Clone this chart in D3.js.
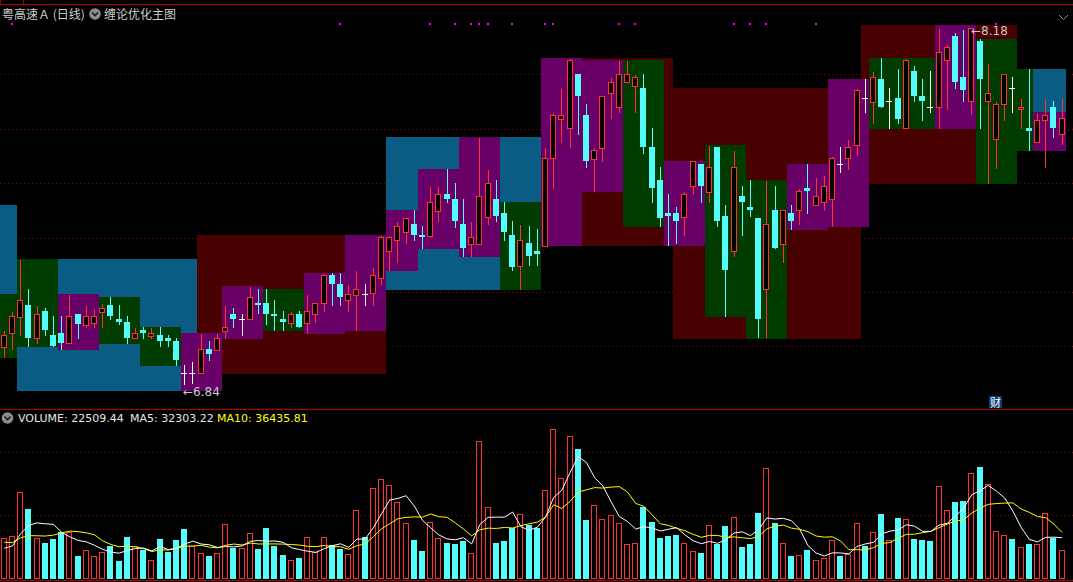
<!DOCTYPE html>
<html><head><meta charset="utf-8">
<script src="https://cdn.jsdelivr.net/npm/d3@7"></script>
<style>html,body{margin:0;padding:0;background:#000;overflow:hidden}svg{display:block}</style>
</head><body>
<svg id="chart" width="1073" height="582"></svg>
<script>
// ---------- data ----------
const open = [6.980,7.031,7.093,7.137,7.012,7.114,7.024,7.032,6.993,7.103, 7.063,7.070,7.112,7.137,7.084,7.073,7.012,7.043,7.021,7.024, 7.014,7.002,6.880,6.880,6.880,6.971,6.969,7.040,7.103,7.084, 7.083,7.144,7.144,7.103,7.084,7.070,7.103,7.070,7.102,7.143, 7.249,7.216,7.155,7.176,7.177,7.183,7.237,7.339,7.381,7.411, 7.442,7.400,7.398,7.492,7.555,7.536,7.442,7.368,7.368,7.469, 7.536,7.483,7.400,7.285,7.370,7.340,7.360,7.689,7.838,7.802, 8.006,7.852,7.688,7.729,7.934,7.881,7.975,7.962,7.953,7.732, 7.608,7.483,7.483,7.469,7.584,7.668,7.564,7.732,7.472,7.339, 7.546,7.505,7.464,7.196,7.495,7.368,7.483,7.493,7.576,7.512, 7.524,7.535,7.667,7.689,7.738,7.915,7.902,7.988,7.904,7.915, 7.802,8.018,7.924,7.882,7.881,8.058,8.149,7.995,7.904,8.131, 7.904,7.761,7.892,7.954,7.874,7.803,7.749,7.832,7.882,7.780];
const high = [7.039,7.110,7.306,7.197,7.133,7.127,7.096,7.096,7.175,7.103, 7.133,7.122,7.141,7.167,7.137,7.096,7.050,7.054,7.050,7.054, 7.024,7.013,6.911,6.921,7.028,7.002,7.028,7.133,7.126,7.103, 7.205,7.197,7.197,7.156,7.114,7.111,7.113,7.175,7.143,7.254, 7.256,7.256,7.212,7.265,7.216,7.276,7.396,7.396,7.449,7.463, 7.495,7.434,7.581,7.581,7.649,7.596,7.536,7.449,7.766,7.645, 7.607,7.525,7.453,7.438,7.434,7.423,7.728,7.860,7.950,8.063, 8.006,7.894,7.729,7.923,7.991,8.054,8.054,8.002,8.006,7.803, 7.656,7.555,7.507,7.564,7.678,7.668,7.735,7.732,7.513,7.717, 7.585,7.606,7.464,7.604,7.585,7.493,7.512,7.573,7.668,7.614, 7.623,7.693,7.732,7.758,7.950,7.987,8.013,8.066,7.954,8.025, 8.063,8.037,7.988,8.018,8.176,8.116,8.160,8.172,8.180,8.137, 8.043,7.900,8.005,7.995,7.912,8.025,7.859,7.912,7.905,7.912];
const low = [6.942,6.971,7.024,6.984,6.995,7.025,6.984,6.973,6.993,7.014, 7.055,7.055,7.055,7.084,7.065,6.994,7.012,7.014,7.014,6.984, 6.984,6.912,6.840,6.845,6.880,6.931,6.969,7.014,7.055,7.025, 7.083,7.106,7.067,7.044,7.044,7.055,7.055,7.033,7.074,7.116, 7.137,7.137,7.116,7.044,7.137,7.137,7.217,7.270,7.299,7.371, 7.382,7.352,7.393,7.454,7.526,7.432,7.321,7.321,7.368,7.443, 7.454,7.382,7.270,7.198,7.289,7.289,7.360,7.578,7.752,7.733, 7.782,7.658,7.567,7.680,7.842,7.865,7.975,7.865,7.710,7.525, 7.434,7.364,7.371,7.402,7.556,7.526,7.526,7.434,7.097,7.323, 7.402,7.473,7.015,7.015,7.353,7.300,7.424,7.443,7.484,7.512, 7.495,7.434,7.639,7.650,7.702,7.865,7.823,7.884,7.804,7.823, 7.802,7.906,7.834,7.865,7.804,7.876,7.955,7.906,7.855,7.804, 7.597,7.652,7.834,7.865,7.804,7.720,7.749,7.658,7.771,7.742];
const close = [7.024,7.096,7.156,7.014,7.102,7.044,6.984,6.995,7.096,7.067, 7.096,7.096,7.126,7.096,7.073,7.014,7.031,7.033,7.031,7.003, 7.003,6.930,6.880,6.880,6.970,6.954,7.012,7.053,7.084,7.084, 7.166,7.138,7.104,7.096,7.074,7.103,7.055,7.113,7.143,7.249, 7.217,7.168,7.177,7.196,7.177,7.249,7.392,7.392,7.433,7.463, 7.402,7.393,7.524,7.554,7.536,7.454,7.353,7.393,7.546,7.596, 7.472,7.413,7.281,7.381,7.323,7.330,7.689,7.851,7.851,8.058, 7.925,7.680,7.719,7.923,7.975,8.005,8.005,7.994,7.733,7.578, 7.466,7.473,7.454,7.554,7.678,7.586,7.655,7.454,7.270,7.655, 7.526,7.496,7.085,7.441,7.353,7.493,7.454,7.565,7.567,7.546, 7.584,7.689,7.667,7.731,7.945,7.915,7.994,7.884,7.904,7.836, 8.058,7.924,7.906,7.882,8.088,8.107,7.977,7.947,8.178,7.989, 7.934,7.892,8.005,7.954,7.881,7.793,7.832,7.852,7.804,7.840];
const volume = [31800,33400,68100,54900,31800,28100,31300,36600,37000,17900, 22400,17700,20800,25800,13900,32900,25500,22600,14500,31300, 21000,30500,39200,26000,20000,17900,20000,42900,24400,24000, 35800,23400,39700,25800,18700,14500,16100,33100,21300,33100, 26600,23400,19200,53900,32900,71200,78300,73600,60200,43700, 30500,21800,44400,31800,28100,27300,29900,20000,108300,56300, 28100,29700,40000,50700,42300,40000,69700,117700,79100,112200, 102200,46300,57800,46800,50000,43700,27100,27900,56500,44700, 32100,33600,34400,27900,21800,20300,42100,27600,41500,48400, 25000,27300,51800,87000,43900,27900,17900,18400,22600,14500, 16100,30300,17900,19200,43700,25800,36600,51000,30300,47800, 46800,31300,30500,29700,72800,53900,60400,61200,83100,88000, 74800,37842,34200,31300,24700,27100,27700,52100,32106.66,22509.44];
// volumes of the 9 sessions before the first visible one (for the moving averages)
const prevVolume = [36000,30000,38000,33000,30000,24000,20000,22000,22200];

// central-zone boxes (candle index range, price range, kind), in drawing order
const boxStart  = [0,0,2,2,7,12,17,24,22,27,32,37,42,47,47,51,56,61,71,66,71,76,82,81,86,91,96,105,101,106,114,119,124,126,126];
const boxEnd    = [2,2,24,7,12,17,22,47,27,32,37,42,47,66,51,56,61,66,82,71,76,81,105,86,91,96,101,124,106,114,119,124,130,130,130];
const boxTop    = [7.513,7.180,7.310,7.310,7.178,7.167,7.054,7.401,7.031,7.209,7.197,7.258,7.401,7.769,7.495,7.649,7.769,7.525,8.067,8.067,8.059,8.059,7.954,7.679,7.739,7.608,7.668,8.191,7.988,8.067,8.191,8.138,8.025,8.025,7.864];
const boxBottom = [7.180,6.939,6.813,6.980,6.968,6.990,6.908,6.877,6.815,7.009,7.039,7.028,7.039,7.194,7.265,7.348,7.318,7.194,7.359,7.359,7.562,7.431,7.009,7.359,7.092,7.009,7.419,7.592,7.431,7.800,7.800,7.592,7.717,7.864,7.717];
const boxKind   = ["blue","green","blue","green","purple","green","green","red","purple","purple","green","purple","purple","blue","purple","purple","purple","green","red","purple","purple","green","red","purple","green","green","purple","red","purple","green","purple","green","green","blue","purple"];

const priceGrid = [8.006,7.801,7.596,7.391,7.186,6.981];
const volumeGrid = [50000,100000];
const signalDots = [1,41,52,55,57,58,59,62,66,67,75,77,89,91,93,99,121];
const financeMark = 121;

// ---------- drawing ----------
const W = 1073, H = 582;
const N = close.length;
const svg = d3.select("#chart");
svg.append("rect").attr("width", W).attr("height", H).attr("fill", "#000");

const x = d3.scaleLinear().domain([0, N]).range([0.2, 1066.2]);
const yP = d3.scaleLinear().domain([6.84, 8.18]).range([383.9, 27.9]);
const yV = d3.scaleLinear().domain([0, 100000]).range([578.7, 451.8]);
const cx = i => Math.floor(x(i + 0.5));

const RED = "#ff3232", CYAN = "#54fcfc", WHITE = "#ffffff";
const boxColor = {blue: "#0a5c84", green: "#003c00", purple: "#680068", red: "#480000"};
const GRID = "#8c0000";

// price gridlines
svg.append("g").attr("shape-rendering", "crispEdges").selectAll("line").data(priceGrid).join("line")
  .attr("x1", 0).attr("x2", W)
  .attr("y1", d => Math.round(yP(d)) + 0.5).attr("y2", d => Math.round(yP(d)) + 0.5)
  .attr("stroke", GRID).attr("stroke-dasharray", "1,3");

// boxes
svg.append("g").attr("shape-rendering", "crispEdges").selectAll("rect").data(boxStart.map((s, k) => k)).join("rect")
  .attr("x", k => Math.round(x(boxStart[k])))
  .attr("width", k => Math.round(x(boxEnd[k])) - Math.round(x(boxStart[k])))
  .attr("y", k => Math.round(yP(boxTop[k])))
  .attr("height", k => Math.round(yP(boxBottom[k])) - Math.round(yP(boxTop[k])))
  .attr("fill", k => boxColor[boxKind[k]]);

// candles
const cg = svg.append("g").attr("shape-rendering", "crispEdges");
d3.range(N).forEach(i => {
  const c = cx(i);
  const o = open[i], cl = close[i];
  const col = cl > o ? RED : (cl < o ? CYAN : WHITE);
  const yh = Math.round(yP(high[i])), yl = Math.round(yP(low[i]));
  cg.append("rect").attr("x", c).attr("width", 1).attr("y", yh).attr("height", yl - yh + 1).attr("fill", col);
  const yo = Math.round(yP(o)), yc = Math.round(yP(cl));
  if (cl > o) {
    cg.append("rect").attr("x", c - 2.5).attr("width", 5)
      .attr("y", yc + 0.5).attr("height", Math.max(1, yo - yc))
      .attr("fill", "#000").attr("stroke", RED).attr("stroke-width", 1);
  } else if (cl < o) {
    cg.append("rect").attr("x", c - 3).attr("width", 6)
      .attr("y", yo).attr("height", Math.max(1, yc - yo)).attr("fill", CYAN);
  } else {
    cg.append("rect").attr("x", c - 3).attr("width", 6).attr("y", yo).attr("height", 1).attr("fill", WHITE);
  }
});

// extreme labels
const iMin = d3.minIndex(low), iMax = d3.maxIndex(high);
svg.append("text").attr("x", cx(iMin) - 1).attr("y", yP(low[iMin]) + 12)
  .attr("font-family", "DejaVu Sans, sans-serif").attr("font-size", 12).attr("fill", "#c8c8c8")
  .text("\u2190" + low[iMin].toFixed(2));
svg.append("text").attr("x", cx(iMax)).attr("y", yP(high[iMax]) + 7)
  .attr("font-family", "DejaVu Sans, sans-serif").attr("font-size", 12).attr("fill", "#c8c8c8")
  .text("\u2190" + high[iMax].toFixed(2));

// signal dots
svg.append("g").selectAll("rect").data(signalDots).join("rect")
  .attr("x", d => cx(d) - 1).attr("y", 23).attr("width", 2).attr("height", 2).attr("fill", "#ff00ff");

// finance mark
const fg = svg.append("g");
fg.append("rect").attr("x", cx(financeMark) - 7).attr("y", 396).attr("width", 13).attr("height", 12).attr("fill", "#0c3c78");
fg.append("text").attr("x", cx(financeMark) - 0.5).attr("y", 406.5).attr("text-anchor", "middle")
  .attr("font-family", "Noto Sans CJK SC").attr("font-size", 11).attr("fill", "#fff").text("财");

// separators
const sep = svg.append("g").attr("stroke", "#b00000").attr("shape-rendering", "crispEdges");
[4.5, 409.5, 580.5].forEach(yy => sep.append("line").attr("x1", 0).attr("x2", W).attr("y1", yy).attr("y2", yy));
sep.append("path").attr("d", "M0.5,0V4.5M23.5,0V4.5").attr("fill", "none");

// header
function icon(cxp, cyp) {
  svg.append("circle").attr("cx", cxp).attr("cy", cyp).attr("r", 5.8).attr("fill", "#8c8c8c");
  svg.append("path").attr("d", `M${cxp-3},${cyp-1.5}L${cxp},${cyp+1.5}L${cxp+3},${cyp-1.5}`)
    .attr("fill", "none").attr("stroke", "#1a1a1a").attr("stroke-width", 1.6);
}
svg.append("text").attr("x", 2).attr("y", 19).attr("font-family", "Noto Sans CJK SC").attr("font-size", 12)
  .attr("fill", "#cccccc").text("粤高速Ａ (日线)");
icon(95, 14);
svg.append("text").attr("x", 104).attr("y", 19).attr("font-family", "Noto Sans CJK SC").attr("font-size", 12)
  .attr("fill", "#cccccc").text("缠论优化主图");
svg.append("path").attr("d", "M1059,15L1063.5,19.5L1068,15").attr("fill", "none").attr("stroke", "#909090");

// volume panel
svg.append("g").attr("shape-rendering", "crispEdges").selectAll("line").data(volumeGrid).join("line")
  .attr("x1", 0).attr("x2", W)
  .attr("y1", d => Math.round(yV(d)) + 0.5).attr("y2", d => Math.round(yV(d)) + 0.5)
  .attr("stroke", GRID).attr("stroke-dasharray", "1,3");

const vg = svg.append("g").attr("shape-rendering", "crispEdges");
d3.range(N).forEach(i => {
  const c = cx(i);
  const up = close[i] > open[i] || (close[i] === open[i] && (i === 0 || close[i] >= close[i - 1]));
  const t = Math.round(yV(volume[i]));
  if (up) {
    vg.append("rect").attr("x", c - 2.5).attr("width", 5).attr("y", t + 0.5).attr("height", 578 - t)
      .attr("fill", "#000").attr("stroke", RED);
  } else {
    vg.append("rect").attr("x", c - 3).attr("width", 6).attr("y", t).attr("height", 579 - t).attr("fill", CYAN);
  }
});

const allVol = prevVolume.concat(volume);
const P = prevVolume.length;
const ma = n => d3.range(N).map(i => d3.mean(allVol.slice(i + P - n + 1, i + P + 1)));
const ma5 = ma(5), ma10 = ma(10);
const line = d3.line().x((d, i) => x(i + 0.5)).y(d => yV(d));
svg.append("path").attr("d", line(ma10)).attr("fill", "none").attr("stroke", "#ffff00").attr("stroke-width", 1);
svg.append("path").attr("d", line(ma5)).attr("fill", "none").attr("stroke", "#ffffff").attr("stroke-width", 1);

icon(7.5, 418);
const vt = svg.append("g").attr("font-family", "DejaVu Sans, sans-serif").attr("font-size", 11);
vt.append("text").attr("x", 18).attr("y", 422).attr("fill", "#e6e6e6").text("VOLUME: " + volume[N - 1].toFixed(2));
vt.append("text").attr("x", 130).attr("y", 422).attr("fill", "#e6e6e6").text("MA5: " + ma5[N - 1].toFixed(2));
vt.append("text").attr("x", 217).attr("y", 422).attr("fill", "#ffff00").text("MA10: " + ma10[N - 1].toFixed(2));
</script>
</body></html>
